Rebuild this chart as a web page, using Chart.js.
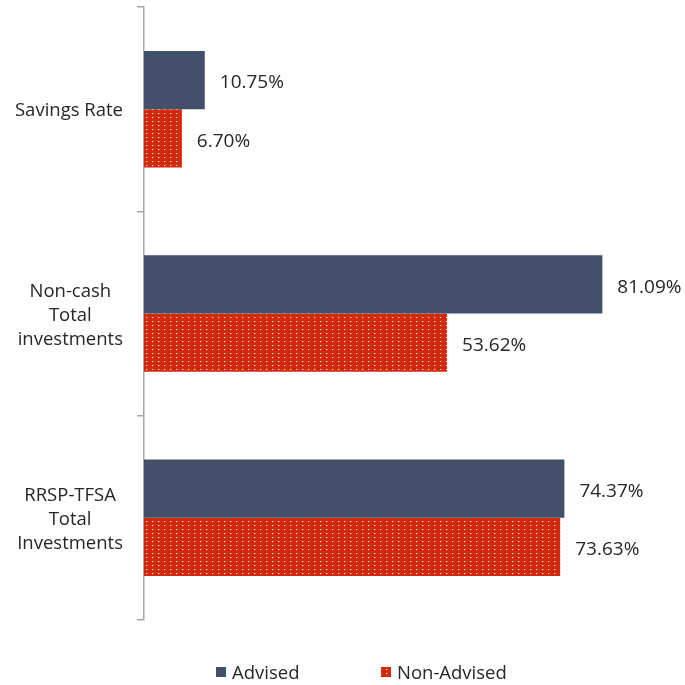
<!DOCTYPE html>
<html>
<head>
<meta charset="utf-8">
<script src="https://cdn.jsdelivr.net/npm/chart.js@4/dist/chart.umd.min.js"></script>
<style>
  html, body { margin: 0; padding: 0; background: #ffffff; }
  #wrap { width: 685px; height: 685px; position: relative; }
</style>
</head>
<body>
<div id="wrap"><canvas id="c" width="685" height="685"></canvas></div>
<script>
// ---- data ----
const categories = [
  ["Savings Rate"],
  ["Non-cash", "Total", "investments"],
  ["RRSP-TFSA", "Total", "Investments"]
];
const seriesNames = ["Advised", "Non-Advised"];
const advisedValues = [10.75, 81.09, 74.37];
const nonAdvisedValues = [6.70, 53.62, 73.63];

// ---- styles ----
const FONT = '"Open Sans", "Liberation Sans", sans-serif';
const TEXT_COLOR = '#262626';
const ADVISED_COLOR = '#44506A';
const RED_COLOR = '#D32A0C';
const AXIS_COLOR = '#A6A6A6';

function makeDotPattern() {
  const p = document.createElement('canvas');
  p.width = 6; p.height = 4;
  const g = p.getContext('2d');
  g.fillStyle = RED_COLOR;
  g.fillRect(0, 0, 6, 4);
  g.fillStyle = 'rgba(255,255,255,0.9)';
  g.fillRect(2, 1, 1, 1);
  g.fillStyle = 'rgba(255,200,190,0.35)';
  g.fillRect(3, 1, 1, 1);
  return document.getElementById('c').getContext('2d').createPattern(p, 'repeat');
}
const redPattern = makeDotPattern();

const valueLabels = {
  id: 'valueLabels',
  afterDatasetsDraw(chart) {
    const ctx = chart.ctx;
    ctx.save();
    ctx.font = '19px ' + FONT;
    ctx.fillStyle = TEXT_COLOR;
    ctx.textAlign = 'left';
    ctx.textBaseline = 'middle';
    chart.data.datasets.forEach((ds, di) => {
      const meta = chart.getDatasetMeta(di);
      meta.data.forEach((el, i) => {
        ctx.fillText(ds.data[i].toFixed(2) + '%', el.x + 15, el.y + 3);
      });
    });
    ctx.restore();
  }
};

const categoryLabels = {
  id: 'categoryLabels',
  afterDraw(chart) {
    const ctx = chart.ctx;
    const ys = chart.scales.y;
    ctx.save();
    ctx.font = '18.5px ' + FONT;
    ctx.fillStyle = TEXT_COLOR;
    ctx.textAlign = 'center';
    ctx.textBaseline = 'middle';
    const lineH = 24;
    const rightEdge = 123;
    categories.forEach((lines, i) => {
      const maxW = Math.max(...lines.map(l => ctx.measureText(l).width));
      const cx = rightEdge - maxW / 2;
      const cy = ys.getPixelForValue(i) + 2;
      const top = cy - (lines.length - 1) * lineH / 2;
      lines.forEach((l, k) => ctx.fillText(l, cx, top + k * lineH));
    });
    ctx.restore();
  }
};

const customLegend = {
  id: 'customLegend',
  afterDraw(chart) {
    const ctx = chart.ctx;
    ctx.save();
    ctx.font = '18.5px ' + FONT;
    ctx.textBaseline = 'middle';
    const items = [
      { x: 216, fill: ADVISED_COLOR, text: seriesNames[0] },
      { x: 381, fill: redPattern, text: seriesNames[1] }
    ];
    items.forEach(it => {
      ctx.fillStyle = it.fill;
      ctx.fillRect(it.x, 667, 10, 10);
      ctx.fillStyle = TEXT_COLOR;
      ctx.fillText(it.text, it.x + 16, 674);
    });
    ctx.restore();
  }
};

new Chart(document.getElementById('c'), {
  type: 'bar',
  data: {
    labels: categories,
    datasets: [
      { label: seriesNames[0], data: advisedValues, backgroundColor: ADVISED_COLOR,
        categoryPercentage: 0.57, barPercentage: 1.0, borderWidth: 0 },
      { label: seriesNames[1], data: nonAdvisedValues, backgroundColor: redPattern,
        categoryPercentage: 0.57, barPercentage: 1.0, borderWidth: 0 }
    ]
  },
  options: {
    indexAxis: 'y',
    responsive: false,
    animation: false,
    layout: { padding: { top: 7, bottom: 65, left: 137, right: 4 } },
    plugins: { legend: { display: false }, tooltip: { enabled: false } },
    scales: {
      x: { min: 0, max: 95, display: false },
      y: {
        grid: { drawOnChartArea: false, drawTicks: true, tickLength: 7, color: AXIS_COLOR, lineWidth: 1.5, offset: true },
        border: { color: AXIS_COLOR, width: 1.5 },
        ticks: { display: false }
      }
    }
  },
  plugins: [valueLabels, categoryLabels, customLegend]
});
</script>
</body>
</html>
